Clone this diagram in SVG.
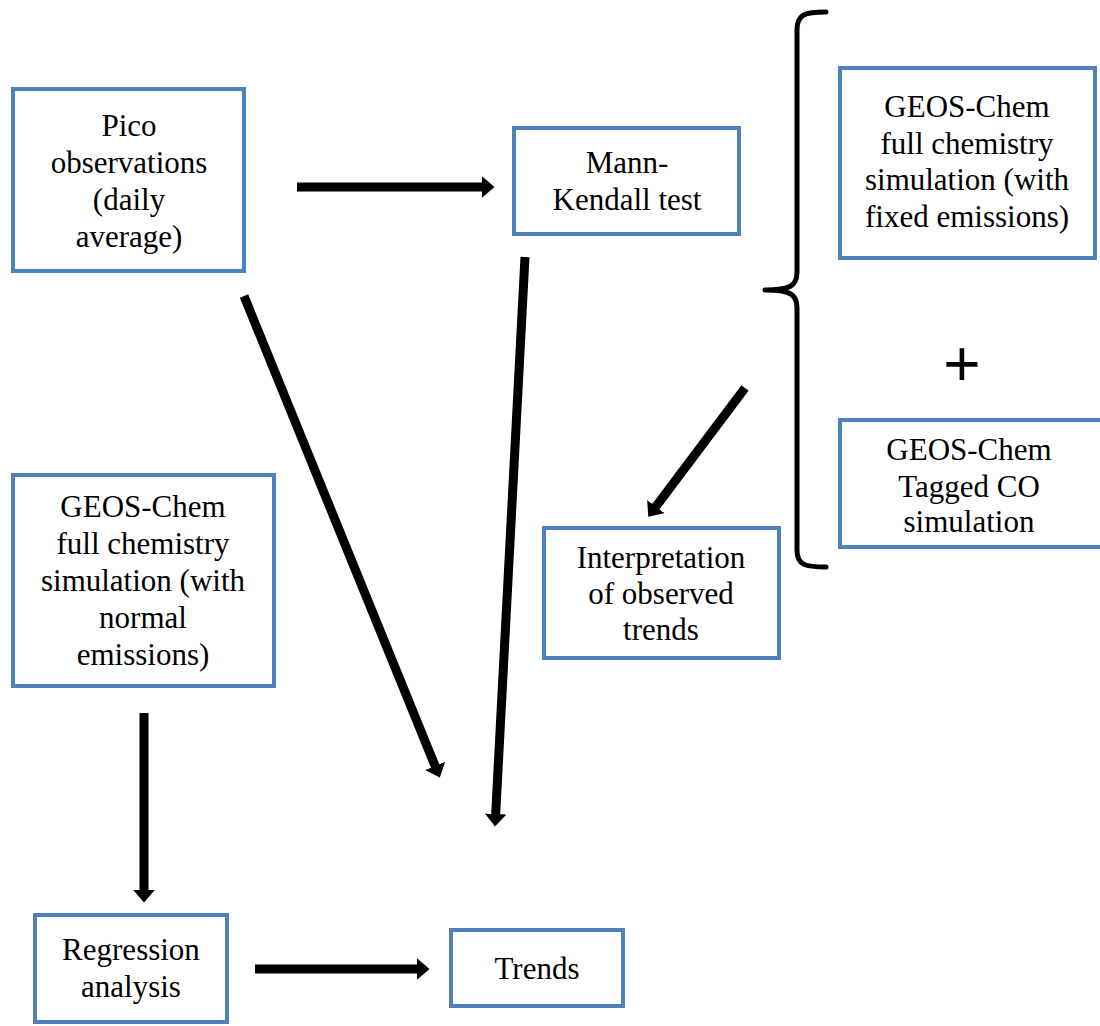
<svg xmlns="http://www.w3.org/2000/svg" width="1100" height="1026" viewBox="0 0 1100 1026">
  <style>
    .box { fill: #ffffff; stroke: #4f81bd; stroke-width: 4; }
    .lbl { font-family: "Liberation Serif", "Times New Roman", serif; font-size: 31px; fill: #000000; text-anchor: middle; }
    .arrow { stroke: #000000; stroke-width: 9; fill: none; marker-end: url(#head); }
    .brace { stroke: #000000; stroke-width: 5; fill: none; stroke-linecap: round; stroke-linejoin: round; }
  </style>
  <defs>
    <marker id="head" markerUnits="strokeWidth" viewBox="0 0 1.4 2.4" markerWidth="1.4" markerHeight="2.4" refX="0.05" refY="1.2" orient="auto">
      <path d="M0,0 L1.4,1.2 L0,2.4 Z" fill="#000000"/>
    </marker>
  </defs>
  <rect width="1100" height="1026" fill="#ffffff"/>

  <g id="pico">
    <rect class="box" x="13" y="89" width="231" height="182"/>
    <text class="lbl" x="129" y="136">Pico</text>
    <text class="lbl" x="129" y="173">observations</text>
    <text class="lbl" x="129" y="210">(daily</text>
    <text class="lbl" x="129" y="247">average)</text>
  </g>

  <g id="mann-kendall">
    <rect class="box" x="514" y="128" width="225" height="106"/>
    <text class="lbl" x="627" y="173">Mann-</text>
    <text class="lbl" x="627" y="210">Kendall test</text>
  </g>

  <g id="geos-fixed">
    <rect class="box" x="840" y="68" width="255" height="190"/>
    <text class="lbl" x="967" y="117">GEOS-Chem</text>
    <text class="lbl" x="967" y="154">full chemistry</text>
    <text class="lbl" x="967" y="190">simulation (with</text>
    <text class="lbl" x="967" y="227">fixed emissions)</text>
  </g>

  <g id="plus">
    <text x="962" y="386" font-family="Liberation Sans, Arial, sans-serif" font-size="64" text-anchor="middle" fill="#000000">+</text>
  </g>

  <g id="geos-tagged">
    <rect class="box" x="840" y="420" width="262" height="127"/>
    <text class="lbl" x="969" y="460">GEOS-Chem</text>
    <text class="lbl" x="969" y="497">Tagged CO</text>
    <text class="lbl" x="969" y="532">simulation</text>
  </g>

  <g id="interpretation">
    <rect class="box" x="544" y="528" width="235" height="130"/>
    <text class="lbl" x="661" y="568">Interpretation</text>
    <text class="lbl" x="661" y="604">of observed</text>
    <text class="lbl" x="661" y="640">trends</text>
  </g>

  <g id="geos-normal">
    <rect class="box" x="13" y="475" width="261" height="211"/>
    <text class="lbl" x="143" y="517">GEOS-Chem</text>
    <text class="lbl" x="143" y="554">full chemistry</text>
    <text class="lbl" x="143" y="591">simulation (with</text>
    <text class="lbl" x="143" y="628">normal</text>
    <text class="lbl" x="143" y="665">emissions)</text>
  </g>

  <g id="regression">
    <rect class="box" x="35" y="915" width="192" height="107"/>
    <text class="lbl" x="131" y="960">Regression</text>
    <text class="lbl" x="131" y="997">analysis</text>
  </g>

  <g id="trends">
    <rect class="box" x="451" y="930" width="172" height="76"/>
    <text class="lbl" x="537" y="979">Trends</text>
  </g>

  <g id="connectors">
    <!-- curly brace grouping the two GEOS-Chem simulations -->
    <path class="brace" d="M826,12 C805,12 797,14 797,30 L797,272 C797,286 790,290 765,290 C790,290 797,294 797,308 L797,550 C797,565 805,567 826,567"/>
    <line class="arrow" x1="297" y1="187" x2="482.4" y2="187"/>
    <line class="arrow" x1="244" y1="296" x2="435.25" y2="766.33"/>
    <line class="arrow" x1="525" y1="257" x2="495.66" y2="814.42"/>
    <line class="arrow" x1="745" y1="388" x2="655.57" y2="506.93"/>
    <line class="arrow" x1="144" y1="713" x2="144" y2="890.4"/>
    <line class="arrow" x1="255" y1="969" x2="417.4" y2="969"/>
  </g>
</svg>
